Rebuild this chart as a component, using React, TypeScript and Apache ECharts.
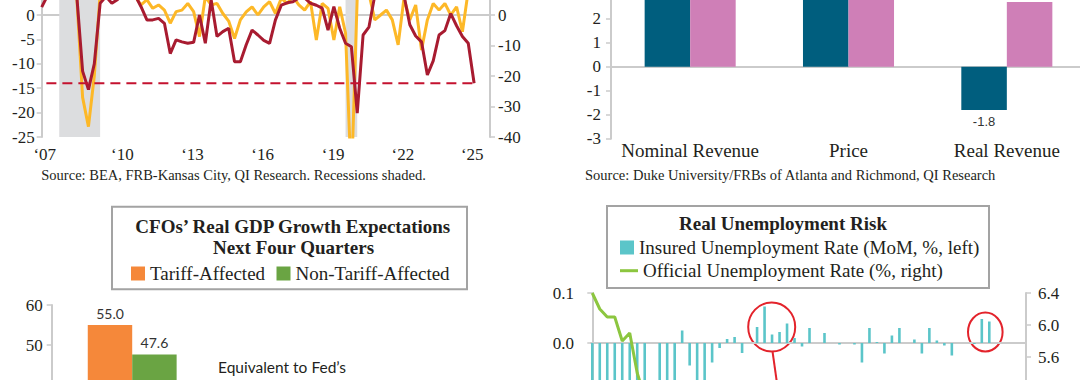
import React, { useEffect, useRef } from "react";
import * as echarts from "echarts";

// ---------------- Panel 1 (top-left): quarterly series from 2007Q1 ----------------
const firstQuarterYear = 2007;
const redSurvey = [
  1.6, 4, 5, 4.5, 5.5, 5, 4, -11.5, -15.3, -10, 2.4, 3.8, 2.4, 3.2, 5, 5.5, 4, 1.7, -1, -1,
  -0.7, -1.7, -7.9, -5.1, -5.5, -5.8, -5.6, 0, -5.8, 3.1, -4.4, -3.4, -2.7, -9.6, -9.6, -6.1, -3.1, -4.1, -5.2, -5.8,
  -1, 2.0, 2.5, 2.7, 3.5, 3.5, 2.4, 2.0, 1.4, -3.1, 1.7, -2.7, -5.8, -6.5, -20.1, -4.1, -2.5, 4, 6, 8,
  7, 6, 4, -2, -4.3, -5.5, -12.3, -9.4, -4.1, -3.2, 0.3, -2.2, -4.4, -5.8, -14,
];
const yellowSurvey = [
  10, 12, 10, 8, 9, 8, 6, -27, -36.6, -20, 7, 10, 14, 12, 15, 12, 6, 3.3, 5, 2.2,
  3.3, 1.6, -2.7, 1.1, 1.6, 3.8, 1.1, -7.1, 6, 3.3, 3.8, 0.5, -2, -7.7, -1.6, 1, 2.7, 0, 2.7, 4.4,
  0.5, 5.5, 3.8, 6, 3.3, 1.6, 4.4, -8.2, 3.8, 2.2, -8.2, 2.7, -6, -55, 6, 9, 7, -1.6, 0, 1.6,
  -1.6, -9.8, 5.5, -1.6, 3.3, -11.5, -1.6, 3.8, 1.6, 3.8, 0, 2.7, -5.5, 8, 10,
];
const recessions = [
  [2007.75, 2009.5],
  [2020.0, 2020.5],
];
const thresholdLevel = -14;
const thresholdSpan = [2007.2, 2025.5];
const yearLabelPositions = [2007.13, 2010.45, 2013.45, 2016.45, 2019.47, 2022.45, 2025.42];
const sourceLeft = "Source: BEA, FRB-Kansas City, QI Research. Recessions shaded.";

// ---------------- Panel 2 (top-right) ----------------
const revenueCategories = ["Nominal Revenue", "Price", "Real Revenue"];
const tariffRevenue = [3.1, 4.9, -1.8];
const nonTariffRevenue = [5.5, 3.0, 2.7];
const sourceRight = "Source: Duke University/FRBs of Atlanta and Richmond, QI Research";

// ---------------- Panel 3 (bottom-left) ----------------
const gdpCategories = ["Real GDP growth"];
const gdpTariff = [55.0];
const gdpNonTariff = [47.6];
const gdpTitle1 = "CFOs’ Real GDP Growth Expectations";
const gdpTitle2 = "Next Four Quarters";
const gdpNote1 = "Equivalent to Fed’s";
const gdpNote2 = "longer-run pace of";

// ---------------- Panel 4 (bottom-right): monthly from Jan 2021 ----------------
const insuredMoM = [
  -0.2, -0.35, -0.3, -0.25, -0.2, -0.15, -0.12, -0.15, 0, -0.12, -0.1, -0.1, 0.025, -0.045, -0.08, -0.08, -0.039, -0.01,
  0.008, 0.012, -0.02, 0, 0.032, 0.073, 0.017, 0.022, 0.039, 0.01, -0.007, 0.03, 0, 0.02, 0, -0.003, 0, -0.003,
  -0.039, 0.03, 0.002, -0.021, 0.015, 0.03, 0, 0.007, -0.021, 0.03, 0.005, -0.005, -0.025, 0, 0, -0.002, 0.048, 0.043,
];
const officialRate = [
  6.4, 6.2, 6.1, 6.1, 5.8, 5.9, 5.4, 5.1, 4.7, 4.5, 4.2, 3.9, 4.0, 3.8, 3.6, 3.7, 3.6, 3.6,
  3.5, 3.6, 3.5, 3.6, 3.6, 3.5, 3.4, 3.6, 3.5, 3.4, 3.7, 3.6, 3.5, 3.8, 3.8, 3.9, 3.7, 3.7,
  3.7, 3.9, 3.9, 3.9, 4.0, 4.0, 4.1, 4.2, 4.1, 4.1, 4.2, 4.1, 4.0, 4.1, 4.2, 4.2, 4.2, 4.1,
];
const unempTitle = "Real Unemployment Risk";
const insuredName = "Insured Unemployment Rate (MoM, %, left)";
const officialName = "Official Unemployment Rate (%, right)";

// ---------------- styling ----------------
const SERIF = "'Liberation Serif', 'Times New Roman', serif";
const SANS = "Lato, 'Open Sans', sans-serif";
const INK = "#231F20";
const AXIS_GRAY = "#CBCBCB";

const axisLineStyle = { show: true, lineStyle: { color: AXIS_GRAY, width: 2 } };
const tickStyle = { show: true, length: 5, lineStyle: { color: AXIS_GRAY, width: 1.5 } };
const labelStyle = (margin: number, size = 17) => ({
  fontFamily: SERIF,
  fontSize: size,
  color: INK,
  margin,
  hideOverlap: false,
});
const fmt1 = (v: number) => (Math.abs(v) < 1e-9 ? 0 : v).toFixed(1);

function buildOption() {
  const quarterYears = redSurvey.map((_, i) => firstQuarterYear + i * 0.25);
  const xMin1 = 2007;
  const xMax1 = 2026.18;

  const grids = [
    { left: 41.7, top: -33.8, width: 448.3, height: 170.8 },
    { left: 611, top: -77.3, width: 475, height: 216 },
    { left: 51.7, top: 305, width: 161, height: 240 },
    { left: 591, top: 293, width: 435, height: 800 },
  ].map((g) => ({ ...g, containLabel: false, outerBoundsMode: "none" }));

  const xAxis: any[] = [
    // 0: panel 1 labels
    {
      type: "value", gridIndex: 0, min: xMin1, max: xMax1,
      axisLine: { show: false, onZero: false }, axisTick: { show: false }, splitLine: { show: false },
      axisLabel: {
        ...labelStyle(9),
        customValues: yearLabelPositions,
        formatter: (v: number) => "‘" + String(Math.floor(v)).slice(2),
      },
    },
    // 1: panel 1 zero line
    {
      type: "value", gridIndex: 0, min: xMin1, max: xMax1,
      axisLine: { show: true, onZero: true, lineStyle: { color: AXIS_GRAY, width: 2 } },
      axisTick: { show: false }, axisLabel: { show: false }, splitLine: { show: false },
    },
    // 2: panel 2 labels
    {
      type: "category", gridIndex: 1, data: revenueCategories,
      axisLine: { show: false, onZero: false }, axisTick: { show: false },
      axisLabel: { ...labelStyle(2, 19), interval: 0 },
    },
    // 3: panel 2 zero line
    {
      type: "category", gridIndex: 1, data: revenueCategories,
      axisLine: { show: true, onZero: true, lineStyle: { color: AXIS_GRAY, width: 2 } },
      axisTick: { show: false }, axisLabel: { show: false },
    },
    // 4: panel 3
    {
      type: "category", gridIndex: 2, data: gdpCategories,
      axisLine: { show: false }, axisTick: { show: false }, axisLabel: { show: false },
    },
    // 5: panel 4
    {
      type: "value", gridIndex: 3, min: -0.17, max: 57.9,
      axisLine: { show: true, onZero: true, lineStyle: { color: AXIS_GRAY, width: 2 } },
      axisTick: { show: false }, axisLabel: { show: false }, splitLine: { show: false },
    },
  ];

  const yAxis: any[] = [
    // 0: panel 1 left
    {
      type: "value", gridIndex: 0, min: -25, max: 10, interval: 5,
      axisLine: axisLineStyle, axisTick: tickStyle, splitLine: { show: false },
      axisLabel: labelStyle(7),
    },
    // 1: panel 1 right
    {
      type: "value", gridIndex: 0, position: "right", min: -40, max: 16, interval: 10,
      axisLine: axisLineStyle, axisTick: tickStyle, splitLine: { show: false },
      axisLabel: labelStyle(8),
    },
    // 2: panel 2
    {
      type: "value", gridIndex: 1, min: -3, max: 6, interval: 1,
      axisLine: axisLineStyle, axisTick: tickStyle, splitLine: { show: false },
      axisLabel: labelStyle(10),
    },
    // 3: panel 3
    {
      type: "value", gridIndex: 2, min: 0, max: 60, interval: 10,
      axisLine: axisLineStyle, axisTick: tickStyle, splitLine: { show: false },
      axisLabel: labelStyle(9),
    },
    // 4: panel 4 left
    {
      type: "value", gridIndex: 3, min: -1.5, max: 0.1, interval: 0.1,
      axisLine: axisLineStyle, axisTick: tickStyle, splitLine: { show: false },
      axisLabel: { ...labelStyle(17), formatter: fmt1 },
    },
    // 5: panel 4 right
    {
      type: "value", gridIndex: 3, position: "right", min: -3.6, max: 6.4, interval: 0.4,
      axisLine: axisLineStyle, axisTick: tickStyle, splitLine: { show: false },
      axisLabel: { ...labelStyle(12), formatter: fmt1 },
    },
  ];

  const barLabel = {
    show: true,
    fontFamily: "'Liberation Sans', Arial, sans-serif",
    fontSize: 13,
    color: "#333",
    distance: 5,
    formatter: (p: any) => fmt1(p.value),
  };
  const signedItems = (arr: number[]) =>
    arr.map((v) => ({ value: v, label: { position: v < 0 ? "bottom" : "top" } }));

  const series: any[] = [
    // Panel 1
    {
      name: "Survey (right)", type: "line", xAxisIndex: 0, yAxisIndex: 1, z: 2,
      data: yellowSurvey.map((v, i) => [quarterYears[i], v]),
      symbol: "none", clip: true,
      lineStyle: { color: "#FDB827", width: 3 },
      markArea: {
        silent: true,
        itemStyle: { color: "#DCDDDF" },
        data: recessions.map(([a, b]) => [{ xAxis: a }, { xAxis: b }]),
      },
    },
    {
      name: "Survey (left)", type: "line", xAxisIndex: 0, yAxisIndex: 0, z: 3,
      data: redSurvey.map((v, i) => [quarterYears[i], v]),
      symbol: "none", clip: true,
      lineStyle: { color: "#A81B30", width: 3 },
    },
    {
      name: "Threshold", type: "line", xAxisIndex: 0, yAxisIndex: 0, z: 4,
      data: thresholdSpan.map((x) => [x, thresholdLevel]),
      symbol: "none",
      lineStyle: { color: "#C4122F", width: 2, type: [10, 6] },
    },
    // Panel 2
    {
      name: "Tariff-affected firms", type: "bar", xAxisIndex: 2, yAxisIndex: 2,
      data: signedItems(tariffRevenue), barGap: "0%", barCategoryGap: "42.5%",
      itemStyle: { color: "#005E7E" }, label: barLabel,
    },
    {
      name: "Other firms", type: "bar", xAxisIndex: 2, yAxisIndex: 2,
      data: signedItems(nonTariffRevenue), barGap: "0%", barCategoryGap: "42.5%",
      itemStyle: { color: "#CF7FB7" }, label: barLabel,
    },
    // Panel 3
    {
      name: "Tariff-Affected", type: "bar", xAxisIndex: 4, yAxisIndex: 3,
      data: gdpTariff, barGap: "0%", barCategoryGap: "44.8%",
      itemStyle: { color: "#F5883A" },
      label: { ...barLabel, position: "top", fontFamily: SANS, fontSize: 14 },
    },
    {
      name: "Non-Tariff-Affected", type: "bar", xAxisIndex: 4, yAxisIndex: 3,
      data: gdpNonTariff, barGap: "0%", barCategoryGap: "44.8%",
      itemStyle: { color: "#6AA443" },
      label: { ...barLabel, position: "top", fontFamily: SANS, fontSize: 14 },
    },
    // Panel 4
    {
      name: insuredName, type: "bar", xAxisIndex: 5, yAxisIndex: 4,
      data: insuredMoM.map((v, i) => [i, v]), barWidth: 2.6,
      itemStyle: { color: "#5BC5C9" },
    },
    {
      name: officialName, type: "line", xAxisIndex: 5, yAxisIndex: 5, z: 3,
      data: officialRate.map((v, i) => [i, v]), symbol: "none",
      lineStyle: { color: "#8CC63F", width: 3 }, itemStyle: { color: "#8CC63F" },
    },
  ];

  const legendBase = {
    orient: "vertical",
    padding: 0,
    selectedMode: false,
    itemHeight: 14,
    textStyle: { fontFamily: SERIF, fontSize: 19, color: INK },
  };
  const legend = [
    { ...legendBase, left: 131, top: 264, itemWidth: 14, icon: "rect", data: ["Tariff-Affected"] },
    { ...legendBase, left: 276.5, top: 264, itemWidth: 14, icon: "rect", data: ["Non-Tariff-Affected"] },
    { ...legendBase, left: 620, top: 238, itemWidth: 14, icon: "rect", data: [insuredName] },
    {
      ...legendBase, left: 620, top: 261.2, itemWidth: 18, itemHeight: 3, icon: "rect",
      itemStyle: { color: "#8CC63F" },
      data: [officialName],
    },
  ];

  const txt = (x: number, y: number, text: string, font: string, align = "center", fill = INK) => ({
    type: "text",
    x,
    y,
    silent: true,
    style: {
      text, font, fill,
      align, verticalAlign: "middle",
      textAlign: align, textVerticalAlign: "middle",
    },
  });

  const graphic = [
    {
      type: "rect", silent: true, z: -1,
      shape: { x: 112, y: 206.7, width: 355, height: 82.6 },
      style: { fill: "#fff", stroke: "#A3A3A3", lineWidth: 2 },
    },
    {
      type: "rect", silent: true, z: -1,
      shape: { x: 607, y: 206, width: 382, height: 82 },
      style: { fill: "#fff", stroke: "#A3A3A3", lineWidth: 2 },
    },
    txt(292.8, 226.7, gdpTitle1, `bold 19px ${SERIF}`),
    txt(293.5, 247.3, gdpTitle2, `bold 19px ${SERIF}`),
    txt(783, 223.3, unempTitle, `bold 19px ${SERIF}`),
    txt(41.3, 175, sourceLeft, `14.5px ${SERIF}`, "left"),
    txt(585, 175, sourceRight, `14.5px ${SERIF}`, "left"),
    txt(282, 366.5, gdpNote1, `15.5px ${SANS}`),
    txt(282, 385.5, gdpNote2, `15.5px ${SANS}`),
    {
      type: "ellipse", silent: true,
      shape: { cx: 771.7, cy: 327, rx: 23.5, ry: 24.5 },
      style: { fill: "none", stroke: "#E3232B", lineWidth: 2 },
    },
    {
      type: "ellipse", silent: true,
      shape: { cx: 985.3, cy: 332, rx: 17.3, ry: 19.5 },
      style: { fill: "none", stroke: "#E3232B", lineWidth: 2 },
    },
    {
      type: "line", silent: true,
      shape: { x1: 772.6, y1: 352, x2: 777.4, y2: 386 },
      style: { stroke: "#E3232B", lineWidth: 2 },
    },
  ];

  return {
    animation: false,
    backgroundColor: "#ffffff",
    textStyle: { fontFamily: SERIF },
    grid: grids,
    xAxis,
    yAxis,
    series,
    legend,
    graphic,
  };
}

export default function App() {
  const ref = useRef<HTMLDivElement>(null);
  useEffect(() => {
    if (!ref.current) return;
    const chart = echarts.init(ref.current, null, { renderer: "svg" });
    chart.setOption(buildOption() as any);
    return () => chart.dispose();
  }, []);
  return (
    <div
      ref={ref}
      style={{ position: "fixed", left: 0, top: 0, width: 1080, height: 380, background: "#fff" }}
    />
  );
}
